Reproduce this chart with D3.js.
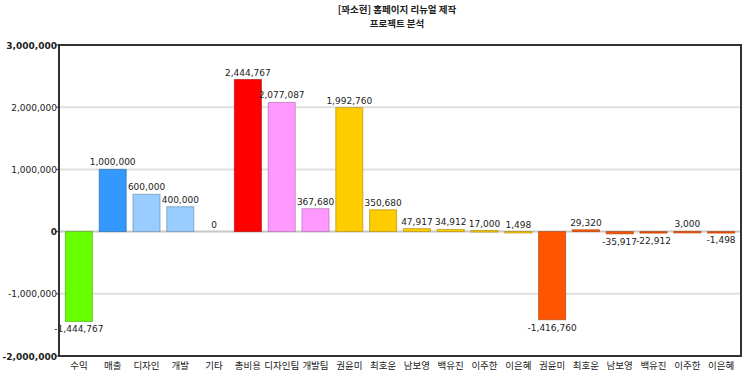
<!DOCTYPE html>
<html><head><meta charset="utf-8">
<script src="https://cdn.jsdelivr.net/npm/d3@7/dist/d3.min.js"></script>
<style>body{margin:0;background:#fff}</style>
</head><body>
<svg id="c" width="750" height="380"></svg>
<script>
const titleLines = ["[꽈소현] 홈페이지 리뉴얼 제작", "프로젝트 분석"];
const categories = ["수익","매출","디자인","개발","기타","총비용","디자인팀","개발팀","권윤미","최호운","남보영","백유진","이주한","이은혜","권윤미","최호운","남보영","백유진","이주한","이은혜"];
const values = [-1444767,1000000,600000,400000,0,2444767,2077087,367680,1992760,350680,47917,34912,17000,1498,-1416760,29320,-35917,-22912,3000,-1498];
const barColors = ["#66ff00","#3399ff","#99ccff","#99ccff","#99ccff","#ff0000","#ff99ff","#ff99ff","#ffcc00","#ffcc00","#ffcc00","#ffcc00","#ffcc00","#ffcc00","#ff5500","#ff5500","#ff5500","#ff5500","#ff5500","#ff5500"];
const yTicks = [-2000000,-1000000,0,1000000,2000000,3000000];

const svg = d3.select("#c");
const fmt0 = d3.format(",");
const fmt = v => fmt0(v).replace("\u2212", "-");
const L = 59, R = 741, T = 45, B = 356;
const y = d3.scaleLinear().domain([-2000000, 3000000]).range([B, T]);
const x = d3.scaleBand().domain(d3.range(categories.length)).range([62, 738]).paddingInner(0.2).paddingOuter(0.1);

// title
svg.selectAll("text.title").data(titleLines).enter().append("text")
  .attr("x", 397).attr("y", (d,i)=> 13 + i*14)
  .attr("text-anchor","middle").attr("font-family","'Noto Sans CJK KR'")
  .attr("font-size", 9.5).attr("font-weight","bold").attr("fill","#222").text(d=>d);

// grid
svg.append("g").selectAll("line").data(yTicks.filter(t=>t>-2000000 && t<3000000)).enter().append("line")
  .attr("x1", L).attr("x2", R).attr("y1", d=>y(d)).attr("y2", d=>y(d))
  .attr("stroke", d=> d===0 ? "#c8c8c8" : "#e0e0e0").attr("stroke-width", 2);

// y axis labels
svg.append("g").selectAll("text").data(yTicks).enter().append("text")
  .attr("x", L-2).attr("y", d=>y(d)+3.5).attr("text-anchor","end")
  .attr("font-family","Verdana, 'DejaVu Sans'").attr("font-size", 9)
  .attr("font-weight", d=> (d===0||d===3000000||d===-2000000) ? "bold" : "normal")
  .attr("fill","#222").text(d=>fmt(d));
svg.append("g").selectAll("line").data(yTicks).enter().append("line")
  .attr("x1", L-3).attr("x2", L).attr("y1", d=>y(d)).attr("y2", d=>y(d)).attr("stroke","#333");

// bars
const idx = d3.range(values.length);
svg.append("g").selectAll("rect").data(idx.filter(i=>values[i]!==0)).enter().append("rect")
  .attr("x", i=>x(i)).attr("width", x.bandwidth())
  .attr("y", i=>y(Math.max(0, values[i])))
  .attr("height", i=>Math.max(1.5, Math.abs(y(values[i]) - y(0))))
  .attr("fill", i=>barColors[i])
  .attr("stroke", i=>d3.color(barColors[i]).darker(1.2)).attr("stroke-width", 1)
  .attr("stroke-opacity", 0.6);

// value labels
svg.append("g").selectAll("text").data(idx).enter().append("text")
  .attr("x", i=>x(i)+x.bandwidth()/2)
  .attr("y", i=> values[i] >= 0 ? y(values[i]) - 4 : y(values[i]) + 11)
  .attr("text-anchor","middle").attr("font-family","Verdana, 'DejaVu Sans'")
  .attr("font-size", 9).attr("fill","#222").text(i=>fmt(values[i]));

// category labels
svg.append("g").selectAll("text").data(idx).enter().append("text")
  .attr("x", i=>x(i)+x.bandwidth()/2).attr("y", B+13)
  .attr("text-anchor","middle").attr("font-family","'Noto Sans CJK KR'")
  .attr("font-size", 9.5).attr("fill","#222").text(i=>categories[i]);

// frame
svg.append("rect").attr("x", L).attr("y", T).attr("width", R-L).attr("height", B-T)
  .attr("fill","none").attr("stroke","#333").attr("stroke-width", 2);
</script>
</body></html>
